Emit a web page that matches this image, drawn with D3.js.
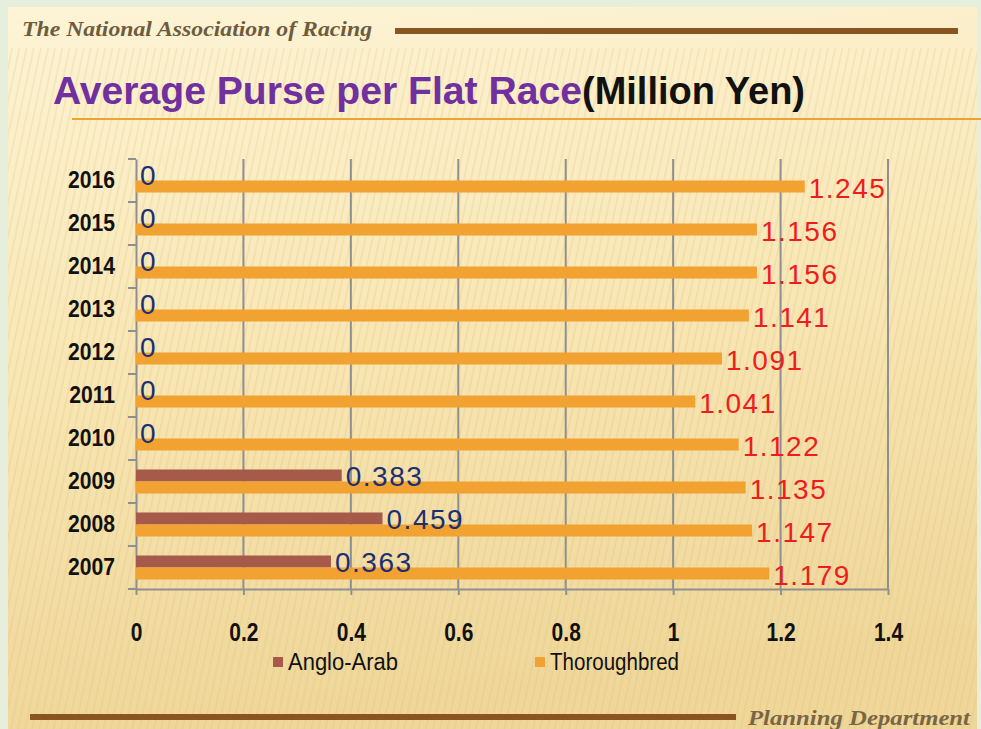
<!DOCTYPE html>
<html>
<head>
<meta charset="utf-8">
<script src="https://cdn.jsdelivr.net/npm/d3@7"></script>
<style>
  body { margin: 0; background: #e6efdc; }
  svg { display: block; }
</style>
</head>
<body>
<div id="chart"></div>
<script>
// data
const years = ["2016", "2015", "2014", "2013", "2012", "2011", "2010", "2009", "2008", "2007"];
const series = ["Anglo-Arab", "Thoroughbred"];
const angloArab = [0, 0, 0, 0, 0, 0, 0, 0.383, 0.459, 0.363];
const thoroughbred = [1.245, 1.156, 1.156, 1.141, 1.091, 1.041, 1.122, 1.135, 1.147, 1.179];
const xTicks = [0, 0.2, 0.4, 0.6, 0.8, 1, 1.2, 1.4];
const colors = ["#a65a4a", "#f2a230"];
const labelColors = ["#1c2f72", "#ee1c1c"];

const W = 981, H = 729;
const plot = {left: 136, right: 888, top: 159, bottom: 589};
const narrow = "'Liberation Sans Narrow', 'Liberation Sans', Arial, sans-serif";

// squeeze text horizontally (no narrow font installed)
function squeeze(sel, f) {
    sel.each(function() {
        let w = this.getComputedTextLength();
        d3.select(this).attr("textLength", w * f).attr("lengthAdjust", "spacingAndGlyphs");
    });
}

const svg = d3.select("#chart").append("svg")
    .attr("width", W)
    .attr("height", H);

// background panel
const defs = svg.append("defs");
let grad = defs.append("linearGradient")
    .attr("id", "bg").attr("x1", 0).attr("y1", 0).attr("x2", 0.15).attr("y2", 1);
grad.append("stop").attr("offset", "0%").attr("stop-color", "#fdf4d6");
grad.append("stop").attr("offset", "45%").attr("stop-color", "#f9e8b8");
grad.append("stop").attr("offset", "100%").attr("stop-color", "#efd79a");

let pat = defs.append("pattern")
    .attr("id", "stripes")
    .attr("width", 7).attr("height", 7)
    .attr("patternUnits", "userSpaceOnUse")
    .attr("patternTransform", "rotate(12)");
pat.append("rect").attr("width", 2).attr("height", 7).attr("fill", "#d9b86a").attr("opacity", 0.18);

svg.append("rect").attr("width", W).attr("height", H).attr("fill", "#e6efdc");
svg.append("rect")
    .attr("x", 8).attr("y", 7).attr("width", 969).attr("height", 722)
    .attr("fill", "url(#bg)");
svg.append("rect")
    .attr("x", 8).attr("y", 48).attr("width", 969).attr("height", 681)
    .attr("fill", "url(#stripes)");

// header / footer
svg.append("text")
    .attr("x", 22).attr("y", 36)
    .attr("font-family", "'Liberation Serif', 'DejaVu Serif', serif")
    .attr("font-style", "italic").attr("font-weight", "bold")
    .attr("font-size", 20)
    .attr("fill", "#6e5c3e")
    .attr("textLength", 350).attr("lengthAdjust", "spacingAndGlyphs")
    .text("The National Association of Racing");
svg.append("line")
    .attr("x1", 395).attr("x2", 958).attr("y1", 31).attr("y2", 31)
    .attr("stroke", "#8a5520").attr("stroke-width", 6);

svg.append("line")
    .attr("x1", 30).attr("x2", 736).attr("y1", 717).attr("y2", 717)
    .attr("stroke", "#8a5520").attr("stroke-width", 6);
svg.append("text")
    .attr("x", 748).attr("y", 725)
    .attr("font-family", "'Liberation Serif', 'DejaVu Serif', serif")
    .attr("font-style", "italic").attr("font-weight", "bold")
    .attr("font-size", 21)
    .attr("fill", "#7a6644")
    .attr("textLength", 222).attr("lengthAdjust", "spacingAndGlyphs")
    .text("Planning Department");

// title
svg.append("text")
    .attr("x", 53).attr("y", 104)
    .attr("font-family", "'Liberation Sans', Arial, sans-serif")
    .attr("font-weight", "bold").attr("font-size", 39)
    .attr("fill", "#7030a0")
    .attr("textLength", 529).attr("lengthAdjust", "spacingAndGlyphs")
    .text("Average Purse per Flat Race");
svg.append("text")
    .attr("x", 582).attr("y", 104)
    .attr("font-family", "'Liberation Sans', Arial, sans-serif")
    .attr("font-weight", "bold").attr("font-size", 39)
    .attr("fill", "#111")
    .attr("textLength", 223).attr("lengthAdjust", "spacingAndGlyphs")
    .text("(Million Yen)");
svg.append("line")
    .attr("x1", 72).attr("x2", 981).attr("y1", 119).attr("y2", 119)
    .attr("stroke", "#eea234").attr("stroke-width", 2);

// scales
let x = d3.scaleLinear()
    .domain([0, 1.4])
    .range([plot.left, plot.right]);
let y = d3.scaleBand()
    .domain(years)
    .range([plot.top, plot.bottom]);
let ySub = d3.scaleBand()
    .domain(series)
    .range([0, y.bandwidth()])
    .paddingOuter(0.79);

const gridColor = "#8f8f8f";

// vertical grid lines
svg.append("g")
    .selectAll("line")
    .data(xTicks.filter(t => t > 0))
    .join("line")
    .attr("x1", d => x(d)).attr("x2", d => x(d))
    .attr("y1", plot.top).attr("y2", plot.bottom)
    .attr("stroke", gridColor).attr("stroke-width", 2);

// bottom axis
let xAxis = svg.append("g")
    .attr("transform", "translate(0," + plot.bottom + ")")
    .call(d3.axisBottom(x).tickValues(xTicks).tickSize(6).tickSizeOuter(0)
        .tickFormat(d => d3.format("")(+d.toFixed(1))));
xAxis.select(".domain").attr("stroke", gridColor).attr("stroke-width", 2);
xAxis.selectAll(".tick line").attr("stroke", gridColor).attr("stroke-width", 2);
xAxis.selectAll(".tick text")
    .attr("y", 34)
    .attr("fill", "#111")
    .attr("font-family", narrow)
    .attr("font-weight", "bold").attr("font-size", 25)
    .call(squeeze, 0.84);

// left axis, ticks at band boundaries
let yAxis = svg.append("g")
    .attr("transform", "translate(" + plot.left + ",0)")
    .call(d3.axisLeft(y).tickSize(0).tickPadding(21));
yAxis.select(".domain").attr("stroke", gridColor).attr("stroke-width", 2);
yAxis.selectAll(".tick text")
    .attr("fill", "#111")
    .attr("font-family", narrow)
    .attr("font-weight", "bold").attr("font-size", 24)
    .call(squeeze, 0.88);
yAxis.append("g")
    .selectAll("line")
    .data(years.concat(["end"]))
    .join("line")
    .attr("x1", -8).attr("x2", 0)
    .attr("y1", (d, i) => i < years.length ? y(d) : plot.bottom)
    .attr("y2", (d, i) => i < years.length ? y(d) : plot.bottom)
    .attr("stroke", gridColor).attr("stroke-width", 2);

// bars first, then value labels on top
const seriesValues = [angloArab, thoroughbred];
const seriesRows = series.map((s, si) => years.map((yr, i) => ({series: s, si: si, year: yr, value: seriesValues[si][i]})));

let barLayer = svg.append("g");
let labelLayer = svg.append("g");
seriesRows.forEach(rows => {
    barLayer.append("g")
        .selectAll("rect")
        .data(rows)
        .join("rect")
        .attr("x", x(0))
        .attr("y", d => y(d.year) + ySub(d.series))
        .attr("width", d => x(d.value) - x(0))
        .attr("height", ySub.bandwidth())
        .attr("fill", d => colors[d.si]);
    labelLayer.append("g")
        .selectAll("text")
        .data(rows)
        .join("text")
        .attr("x", d => x(d.value) + 4)
        .attr("y", d => y(d.year) + ySub(d.series) + ySub.bandwidth() / 2 + 11)
        .attr("fill", d => labelColors[d.si])
        .attr("font-family", "'Liberation Sans', Arial, sans-serif")
        .attr("font-size", 28)
        .attr("letter-spacing", 1.5)
        .text(d => d.value === 0 ? "0" : d3.format(".3f")(d.value));
});

// legend
const legendX = [273, 535];
const legendW = [110, 129];
let legend = svg.append("g")
    .selectAll("g")
    .data(series)
    .join("g")
    .attr("transform", (d, i) => "translate(" + legendX[i] + ",657)");
legend.append("rect")
    .attr("width", 10).attr("height", 10)
    .attr("fill", (d, i) => colors[i]);
legend.append("text")
    .attr("x", 15).attr("y", 13)
    .attr("fill", "#111")
    .attr("font-family", narrow)
    .attr("font-size", 23)
    .attr("textLength", (d, i) => legendW[i])
    .attr("lengthAdjust", "spacingAndGlyphs")
    .text(d => d);
</script>
</body>
</html>
